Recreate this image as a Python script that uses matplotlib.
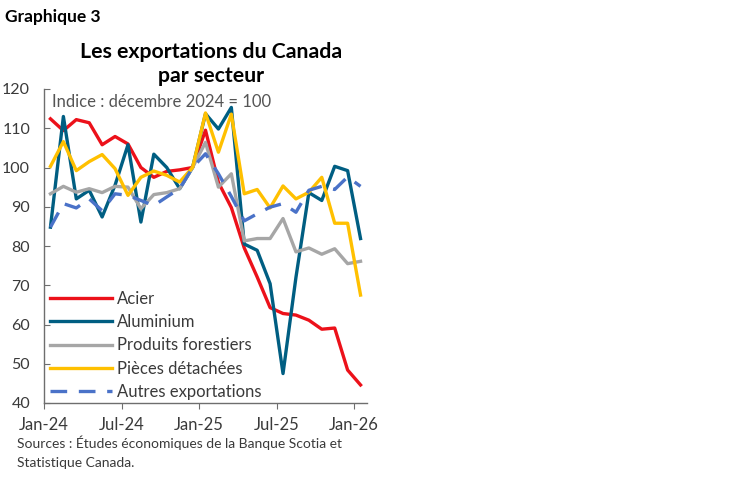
import numpy as np
import matplotlib.pyplot as plt

# monthly index, Dec 2024 = 100, Jan-24 .. Jan-26
months = np.arange(25)
acier = [112.4, 109.4, 112.2, 111.4, 105.8, 107.9, 106.0, 100.0, 97.5, 99.0, 99.4, 100.0,
         109.5, 96.2, 89.8, 79.5, 72.1, 64.3, 62.8, 62.4, 61.1, 58.8, 59.1, 48.4, 44.6]
aluminium = [84.8, 113.0, 92.0, 94.2, 87.4, 95.5, 105.8, 86.1, 103.4, 100.0, 94.6, 100.0,
             113.7, 109.8, 115.3, 80.5, 78.9, 70.4, 47.5, 72.0, 93.6, 91.6, 100.3, 99.2, 81.9]
forestiers = [93.3, 95.2, 93.7, 94.6, 93.6, 95.2, 95.0, 89.5, 93.1, 93.6, 94.6, 100.0,
              106.4, 95.0, 98.4, 81.3, 81.9, 81.9, 87.0, 78.5, 79.5, 77.9, 79.3, 75.5, 76.1]
pieces = [100.3, 106.6, 99.2, 101.5, 103.3, 99.7, 92.9, 97.5, 99.1, 98.0, 96.3, 100.0,
          113.9, 103.9, 113.6, 93.3, 94.4, 89.7, 95.3, 92.0, 93.7, 97.5, 85.8, 85.8, 67.5]
autres = [84.8, 90.8, 89.7, 92.0, 89.0, 93.3, 92.9, 91.6, 90.3, 92.5, 94.6, 100.0,
          103.5, 98.4, 92.6, 86.4, 88.2, 89.9, 90.8, 88.6, 94.2, 95.2, 94.4, 97.6, 95.2]

tick_pos = [0, 6, 12, 18, 24]
tick_lab = ['Jan-24', 'Jul-24', 'Jan-25', 'Jul-25', 'Jan-26']

plt.rcParams['font.family'] = ['Lato', 'DejaVu Sans']
txt = '#3a3a3a'
axc = '#6e6e6e'

fig = plt.figure(figsize=(7.49, 4.82), dpi=100)
ax = fig.add_axes([44/749, 1-403/482, (367-44)/749, (403-89)/482])

x = months + 0.5
lw = 2.4
ax.plot(x, acier, color='#ec111a', lw=lw, label='Acier')
ax.plot(x, aluminium, color='#005e82', lw=lw, label='Aluminium')
ax.plot(x, forestiers, color='#a6a6a6', lw=lw, label='Produits forestiers')
ax.plot(x, pieces, color='#ffc000', lw=lw, label='Pièces détachées')
ax.plot(x, autres, color='#4a72c8', lw=lw, dashes=(5, 3.5), label='Autres exportations')

ax.set_xlim(0, 25)
ax.set_ylim(40, 120)
ax.set_yticks(range(40, 121, 10))
ax.set_xticks(tick_pos)
ax.set_xticklabels(tick_lab)
for s in ['top', 'right']:
    ax.spines[s].set_visible(False)
for s in ['left', 'bottom']:
    ax.spines[s].set_color(axc)
    ax.spines[s].set_linewidth(1.0)
ax.tick_params(axis='y', direction='in', length=4, pad=10, colors=axc, labelcolor=txt, labelsize=11.5)
ax.tick_params(axis='x', direction='out', length=4, pad=6, colors=axc, labelcolor=txt, labelsize=12)

ax.text(0.025, 0.985, 'Indice : décembre 2024 = 100', transform=ax.transAxes,
        ha='left', va='top', fontsize=12, color='#555555')

leg = ax.legend(loc='upper left', bbox_to_anchor=(50/749, 1-291/482), bbox_transform=fig.transFigure,
                frameon=False, fontsize=12, handlelength=3.7, handletextpad=0.3,
                labelspacing=0.43, borderpad=0, borderaxespad=0)
for t in leg.get_texts():
    t.set_color(txt)

fig.text(5/749, 1-22/482, 'Graphique 3', fontsize=12.5, fontweight='bold', color='black',
         ha='left', va='baseline')
fig.text(211/749, 1-58/482, 'Les exportations du Canada', fontsize=15.3, fontweight='bold',
         color='black', ha='center', va='baseline')
fig.text(211/749, 1-82/482, 'par secteur', fontsize=15.3, fontweight='bold',
         color='black', ha='center', va='baseline')

fig.text(17/749, 1-448/482, 'Sources : Études économiques de la Banque Scotia et', fontsize=10,
         color=txt, ha='left', va='baseline')
fig.text(17/749, 1-467/482, 'Statistique Canada.', fontsize=10,
         color=txt, ha='left', va='baseline')

fig.savefig('out.png', dpi=100)
